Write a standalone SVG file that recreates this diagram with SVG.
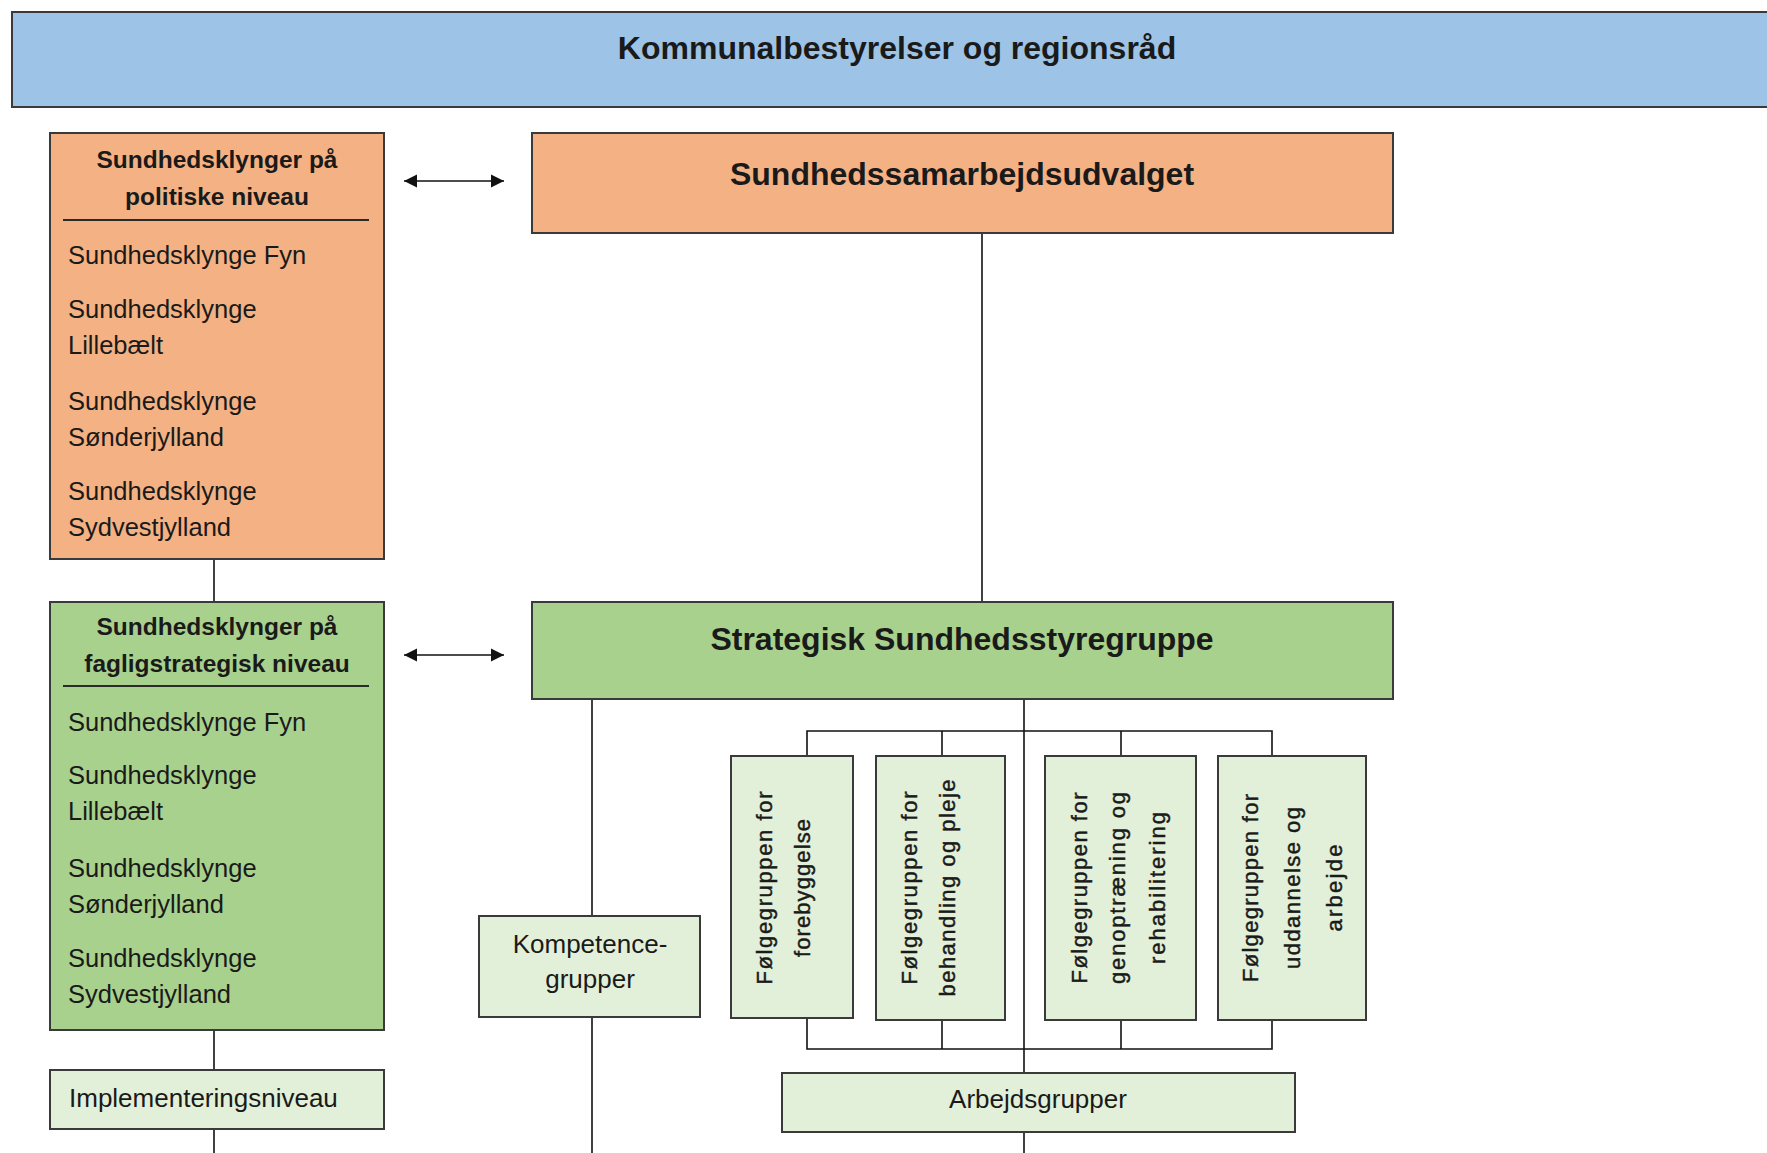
<svg xmlns="http://www.w3.org/2000/svg" width="1767" height="1153" viewBox="0 0 1767 1153">
<style>
.box{stroke:#3a3a3a;stroke-width:2}
.blue{fill:#9DC3E6}
.orange{fill:#F4B183}
.green{fill:#A9D18E}
.light{fill:#E2F0D9}
.conn{stroke:#111;stroke-width:1.6;fill:none}
.t{font-family:"Liberation Sans",Arial,sans-serif;fill:#1a1a1a}
.h1{font-size:32px;font-weight:bold;text-anchor:middle}
.h2{font-size:24.5px;font-weight:bold;text-anchor:middle}
.li{font-size:25.5px}
.n{font-size:26px}
.c{text-anchor:middle}
.r{font-size:22px;text-anchor:middle;stroke:#1a1a1a;stroke-width:0.45}
</style>
<defs>
<marker id="ah" markerUnits="userSpaceOnUse" markerWidth="14" markerHeight="14" refX="13" refY="7" orient="auto-start-reverse" viewBox="0 0 14 14">
<path d="M0,0.5 L13,7 L0,13.5 z" fill="#111"/>
</marker>
</defs>
<rect width="1767" height="1153" fill="#ffffff"/>

<g id="connectors">
<line class="conn" x1="214" y1="559" x2="214" y2="602"/>
<line class="conn" x1="214" y1="1030" x2="214" y2="1070"/>
<line class="conn" x1="214" y1="1129" x2="214" y2="1153"/>
<line class="conn" x1="982" y1="233" x2="982" y2="602"/>
<line class="conn" x1="592" y1="699" x2="592" y2="916"/>
<line class="conn" x1="592" y1="1017" x2="592" y2="1153"/>
<line class="conn" x1="1024" y1="699" x2="1024" y2="1073"/>
<line class="conn" x1="1024" y1="1132" x2="1024" y2="1153"/>
<polyline class="conn" points="807,756 807,731 1272,731 1272,756"/>
<line class="conn" x1="942" y1="731" x2="942" y2="756"/>
<line class="conn" x1="1121" y1="731" x2="1121" y2="756"/>
<polyline class="conn" points="807,1018 807,1049 1272,1049 1272,1020"/>
<line class="conn" x1="942" y1="1020" x2="942" y2="1049"/>
<line class="conn" x1="1121" y1="1020" x2="1121" y2="1049"/>
<line class="conn" x1="404" y1="181" x2="504" y2="181" stroke-width="2.4" marker-start="url(#ah)" marker-end="url(#ah)"/>
<line class="conn" x1="404" y1="655" x2="504" y2="655" stroke-width="2.4" marker-start="url(#ah)" marker-end="url(#ah)"/>
</g>

<g id="kommunalbestyrelser">
<rect class="box blue" x="12" y="12" width="1780" height="95"/>
<text class="t h1" x="897" y="59">Kommunalbestyrelser og regionsråd</text>
</g>

<g id="klynger-politisk">
<rect class="box orange" x="50" y="133" width="334" height="426"/>
<text class="t h2" x="217" y="168">Sundhedsklynger på</text>
<text class="t h2" x="217" y="205">politiske niveau</text>
<line x1="63" y1="220" x2="369" y2="220" stroke="#2a2a2a" stroke-width="2"/>
<text class="t li" x="68" y="264">Sundhedsklynge Fyn</text>
<text class="t li" x="68" y="318">Sundhedsklynge</text>
<text class="t li" x="68" y="354">Lillebælt</text>
<text class="t li" x="68" y="410">Sundhedsklynge</text>
<text class="t li" x="68" y="446">Sønderjylland</text>
<text class="t li" x="68" y="500">Sundhedsklynge</text>
<text class="t li" x="68" y="536">Sydvestjylland</text>
</g>

<g id="sundhedssamarbejdsudvalget">
<rect class="box orange" x="532" y="133" width="861" height="100"/>
<text class="t h1" x="962" y="185">Sundhedssamarbejdsudvalget</text>
</g>

<g id="klynger-fagligstrategisk">
<rect class="box green" x="50" y="602" width="334" height="428"/>
<text class="t h2" x="217" y="635">Sundhedsklynger på</text>
<text class="t h2" x="217" y="672">fagligstrategisk niveau</text>
<line x1="63" y1="686" x2="369" y2="686" stroke="#2a2a2a" stroke-width="2"/>
<text class="t li" x="68" y="731">Sundhedsklynge Fyn</text>
<text class="t li" x="68" y="784">Sundhedsklynge</text>
<text class="t li" x="68" y="820">Lillebælt</text>
<text class="t li" x="68" y="877">Sundhedsklynge</text>
<text class="t li" x="68" y="913">Sønderjylland</text>
<text class="t li" x="68" y="967">Sundhedsklynge</text>
<text class="t li" x="68" y="1003">Sydvestjylland</text>
</g>

<g id="strategisk-sundhedsstyregruppe">
<rect class="box green" x="532" y="602" width="861" height="97"/>
<text class="t h1" x="962" y="650">Strategisk Sundhedsstyregruppe</text>
</g>

<g id="implementeringsniveau">
<rect class="box light" x="50" y="1070" width="334" height="59"/>
<text class="t n" x="69" y="1107">Implementeringsniveau</text>
</g>

<g id="kompetencegrupper">
<rect class="box light" x="479" y="916" width="221" height="101"/>
<text class="t n c" x="590" y="953">Kompetence-</text>
<text class="t n c" x="590" y="988">grupper</text>
</g>

<g id="arbejdsgrupper">
<rect class="box light" x="782" y="1073" width="513" height="59"/>
<text class="t n c" x="1038" y="1108">Arbejdsgrupper</text>
</g>

<g id="foelgegruppe-forebyggelse">
<rect class="box light" x="731" y="756" width="122" height="262"/>
<text class="t r" transform="translate(772,888) rotate(-90)" textLength="193" lengthAdjust="spacing">Følgegruppen for</text>
<text class="t r" transform="translate(809.5,888) rotate(-90)" textLength="138" lengthAdjust="spacing">forebyggelse</text>
</g>

<g id="foelgegruppe-behandling">
<rect class="box light" x="876" y="756" width="129" height="264"/>
<text class="t r" transform="translate(917,888) rotate(-90)" textLength="193" lengthAdjust="spacing">Følgegruppen for</text>
<text class="t r" transform="translate(955,888) rotate(-90)" textLength="217" lengthAdjust="spacing">behandling og pleje</text>
</g>

<g id="foelgegruppe-genoptraening">
<rect class="box light" x="1045" y="756" width="151" height="264"/>
<text class="t r" transform="translate(1087,888) rotate(-90)" textLength="191" lengthAdjust="spacing">Følgegruppen for</text>
<text class="t r" transform="translate(1125,888) rotate(-90)" textLength="192" lengthAdjust="spacing">genoptræning og</text>
<text class="t r" transform="translate(1165,888) rotate(-90)" textLength="152" lengthAdjust="spacing">rehabilitering</text>
</g>

<g id="foelgegruppe-uddannelse">
<rect class="box light" x="1218" y="756" width="148" height="264"/>
<text class="t r" transform="translate(1258,888) rotate(-90)" textLength="188" lengthAdjust="spacing">Følgegruppen for</text>
<text class="t r" transform="translate(1300,888) rotate(-90)" textLength="162" lengthAdjust="spacing">uddannelse og</text>
<text class="t r" transform="translate(1342,888) rotate(-90)" textLength="87" lengthAdjust="spacing">arbejde</text>
</g>
</svg>
